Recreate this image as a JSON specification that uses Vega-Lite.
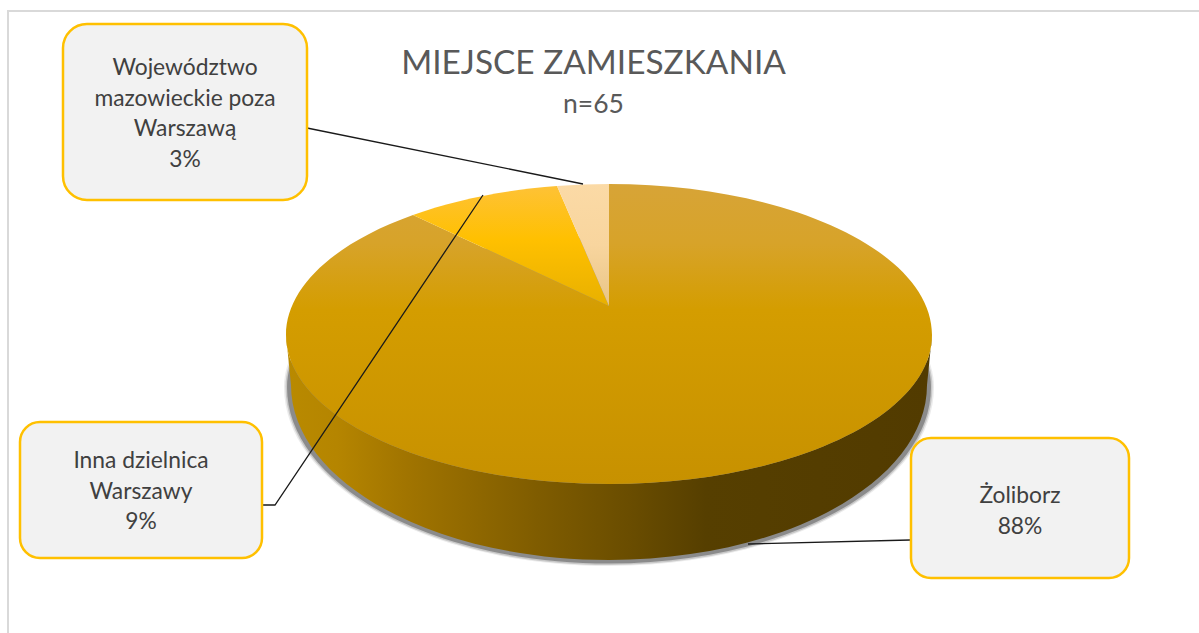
{"$schema":"https://vega.github.io/schema/vega-lite/v6.json","width":1199,"height":633,"padding":0,"autosize":{"type":"none"},"background":"#ffffff","config":{"view":{"stroke":null}},
"title":{"text":"MIEJSCE ZAMIESZKANIA","subtitle":"n=65","anchor":"middle","frame":"group","dx":-6,"offset":-119,"font":"Lato","fontSize":33.4,"fontWeight":"normal","color":"#595959","subtitleFont":"Lato","subtitleFontSize":26.5,"subtitleColor":"#595959","subtitlePadding":10},
"data":{"values":[{"category":"Województwo mazowieckie poza Warszawą","value":3,"label":"Województwo\nmazowieckie poza\nWarszawą\n3%"},{"category":"Inna dzielnica Warszawy","value":9,"label":"Inna dzielnica\nWarszawy\n9%"},{"category":"Żoliborz","value":88,"label":"Żoliborz\n88%"}]},
"resolve":{"scale":{"x":"independent","y":"independent","shape":"independent"}},
"layer":[
{"transform":[{"filter":"datum.value==88"}],"mark":{"type":"point","shape":"M-601,298L-601,-324L590,-324","size":4,"filled":false,"stroke":"#D9D9D9","strokeWidth":2,"opacity":1},"encoding":{"x":{"field":"value","type":"quantitative","axis":null,"scale":{"domain":[0,100],"range":[609,609]}},"y":{"field":"value","type":"quantitative","axis":null,"scale":{"domain":[0,100],"range":[335,335]}}}},
{"transform":[{"filter":"datum.value==88"}],"mark":{"type":"point","shape":"M-325,50A325,179 0 0 0 325,50A325,150 0 0 0 -325,50Z","size":4,"filled":true,"fill":"#000000","opacity":0.08,"strokeWidth":0},"encoding":{"x":{"field":"value","type":"quantitative","axis":null,"scale":{"domain":[0,100],"range":[609,609]}},"y":{"field":"value","type":"quantitative","axis":null,"scale":{"domain":[0,100],"range":[337,337]}}}},
{"transform":[{"filter":"datum.value==88"}],"mark":{"type":"point","shape":"M-323.5,50A323.5,178 0 0 0 323.5,50A323.5,150 0 0 0 -323.5,50Z","size":4,"filled":true,"fill":"#000000","opacity":0.15,"strokeWidth":0},"encoding":{"x":{"field":"value","type":"quantitative","axis":null,"scale":{"domain":[0,100],"range":[609,609]}},"y":{"field":"value","type":"quantitative","axis":null,"scale":{"domain":[0,100],"range":[337,337]}}}},
{"transform":[{"filter":"datum.value==88"}],"mark":{"type":"point","shape":"M-322,50A322,176.5 0 0 0 322,50A322,150 0 0 0 -322,50Z","size":4,"filled":true,"fill":"#000000","opacity":0.3,"strokeWidth":0},"encoding":{"x":{"field":"value","type":"quantitative","axis":null,"scale":{"domain":[0,100],"range":[609,609]}},"y":{"field":"value","type":"quantitative","axis":null,"scale":{"domain":[0,100],"range":[337,337]}}}},
{"transform":[{"filter":"datum.value==88"}],"mark":{"type":"point","shape":"M-323,0L-318,50A318,175 0 0 0 318,50L323,0A323,149 0 0 1 -323,0Z","size":4,"filled":true,"opacity":1,"strokeWidth":0,"fill":{"gradient":"linear","x1":0,"x2":1,"y1":0,"y2":0,"stops":[{"offset":0,"color":"#B98A00"},{"offset":0.08,"color":"#B58500"},{"offset":0.18,"color":"#A27500"},{"offset":0.39,"color":"#7F5C00"},{"offset":0.53,"color":"#6A4D00"},{"offset":0.65,"color":"#563F00"},{"offset":1,"color":"#523B00"}]}},"encoding":{"x":{"field":"value","type":"quantitative","axis":null,"scale":{"domain":[0,100],"range":[609,609]}},"y":{"field":"value","type":"quantitative","axis":null,"scale":{"domain":[0,100],"range":[335,335]}}}},
{"transform":[{"filter":"datum.value==88"}],"mark":{"type":"point","shape":"M0,-29L0,-151A323,151 0 0 1 323,0A323,149 0 0 1 -323,0A323,151 0 0 1 -196,-120Z","size":4,"filled":true,"opacity":1,"strokeWidth":0,"fill":{"gradient":"linear","x1":0,"x2":0,"y1":0,"y2":1,"stops":[{"offset":0,"color":"#D7A437"},{"offset":0.2,"color":"#D7A329"},{"offset":0.42,"color":"#D49D00"},{"offset":1,"color":"#C79100"}]}},"encoding":{"x":{"field":"value","type":"quantitative","axis":null,"scale":{"domain":[0,100],"range":[609,609]}},"y":{"field":"value","type":"quantitative","axis":null,"scale":{"domain":[0,100],"range":[335,335]}}}},
{"transform":[{"filter":"datum.value==9"}],"mark":{"type":"point","shape":"M0,-29L-196,-120A323,151 0 0 1 -52,-149Z","size":4,"filled":true,"opacity":1,"strokeWidth":0,"fill":{"gradient":"linear","x1":0,"x2":0,"y1":0,"y2":1,"stops":[{"offset":0,"color":"#FEC236"},{"offset":0.45,"color":"#FFC000"},{"offset":1,"color":"#E8B000"}]}},"encoding":{"x":{"field":"value","type":"quantitative","axis":null,"scale":{"domain":[0,100],"range":[609,609]}},"y":{"field":"value","type":"quantitative","axis":null,"scale":{"domain":[0,100],"range":[335,335]}}}},
{"transform":[{"filter":"datum.value==3"}],"mark":{"type":"point","shape":"M0,-29L-52,-149A323,151 0 0 1 0,-151Z","size":4,"filled":true,"opacity":1,"strokeWidth":0,"fill":{"gradient":"linear","x1":0,"x2":0,"y1":0,"y2":1,"stops":[{"offset":0,"color":"#FBDAA6"},{"offset":0.5,"color":"#F8D59E"},{"offset":1,"color":"#E8C586"}]}},"encoding":{"x":{"field":"value","type":"quantitative","axis":null,"scale":{"domain":[0,100],"range":[609,609]}},"y":{"field":"value","type":"quantitative","axis":null,"scale":{"domain":[0,100],"range":[335,335]}}}},
{"mark":{"type":"point","size":4,"filled":false,"stroke":"#1a1a1a","strokeWidth":1.3,"opacity":1},"encoding":{"x":{"field":"value","type":"quantitative","axis":null,"scale":{"domain":[3,9,88],"range":[185,141,1020]}},"y":{"field":"value","type":"quantitative","axis":null,"scale":{"domain":[3,9,88],"range":[112,490,508]}},"shape":{"field":"value","type":"nominal","legend":null,"scale":{"domain":[3,9,88],"range":["M122,16L398,72","M122,15L134,15L342,-295","M-110,32L-272,36"]}}}},
{"mark":{"type":"point","size":4,"filled":true,"fill":"#F2F2F2","stroke":"#FFC000","strokeWidth":2.5,"opacity":1},"encoding":{"x":{"field":"value","type":"quantitative","axis":null,"scale":{"domain":[3,9,88],"range":[185,141,1020]}},"y":{"field":"value","type":"quantitative","axis":null,"scale":{"domain":[3,9,88],"range":[112,490,508]}},"shape":{"field":"value","type":"nominal","legend":null,"scale":{"domain":[3,9,88],"range":["M-98,-88L98,-88A24,24 0 0 1 122,-64L122,64A24,24 0 0 1 98,88L-98,88A24,24 0 0 1 -122,64L-122,-64A24,24 0 0 1 -98,-88Z","M-101,-68L101,-68A20,20 0 0 1 121,-48L121,48A20,20 0 0 1 101,68L-101,68A20,20 0 0 1 -121,48L-121,-48A20,20 0 0 1 -101,-68Z","M-89,-70L89,-70A20,20 0 0 1 109,-50L109,50A20,20 0 0 1 89,70L-89,70A20,20 0 0 1 -109,50L-109,-50A20,20 0 0 1 -89,-70Z"]}}}},
{"mark":{"type":"text","font":"Lato","fontSize":22.8,"color":"#404040","lineBreak":"\n","lineHeight":30.5,"align":"center","baseline":"middle"},"encoding":{"x":{"field":"value","type":"quantitative","axis":null,"scale":{"domain":[3,9,88],"range":[185,141,1020]}},"y":{"field":"value","type":"quantitative","axis":null,"scale":{"domain":[3,9,88],"range":[68,461,496]}},"text":{"field":"label","type":"nominal"}}}
]}
